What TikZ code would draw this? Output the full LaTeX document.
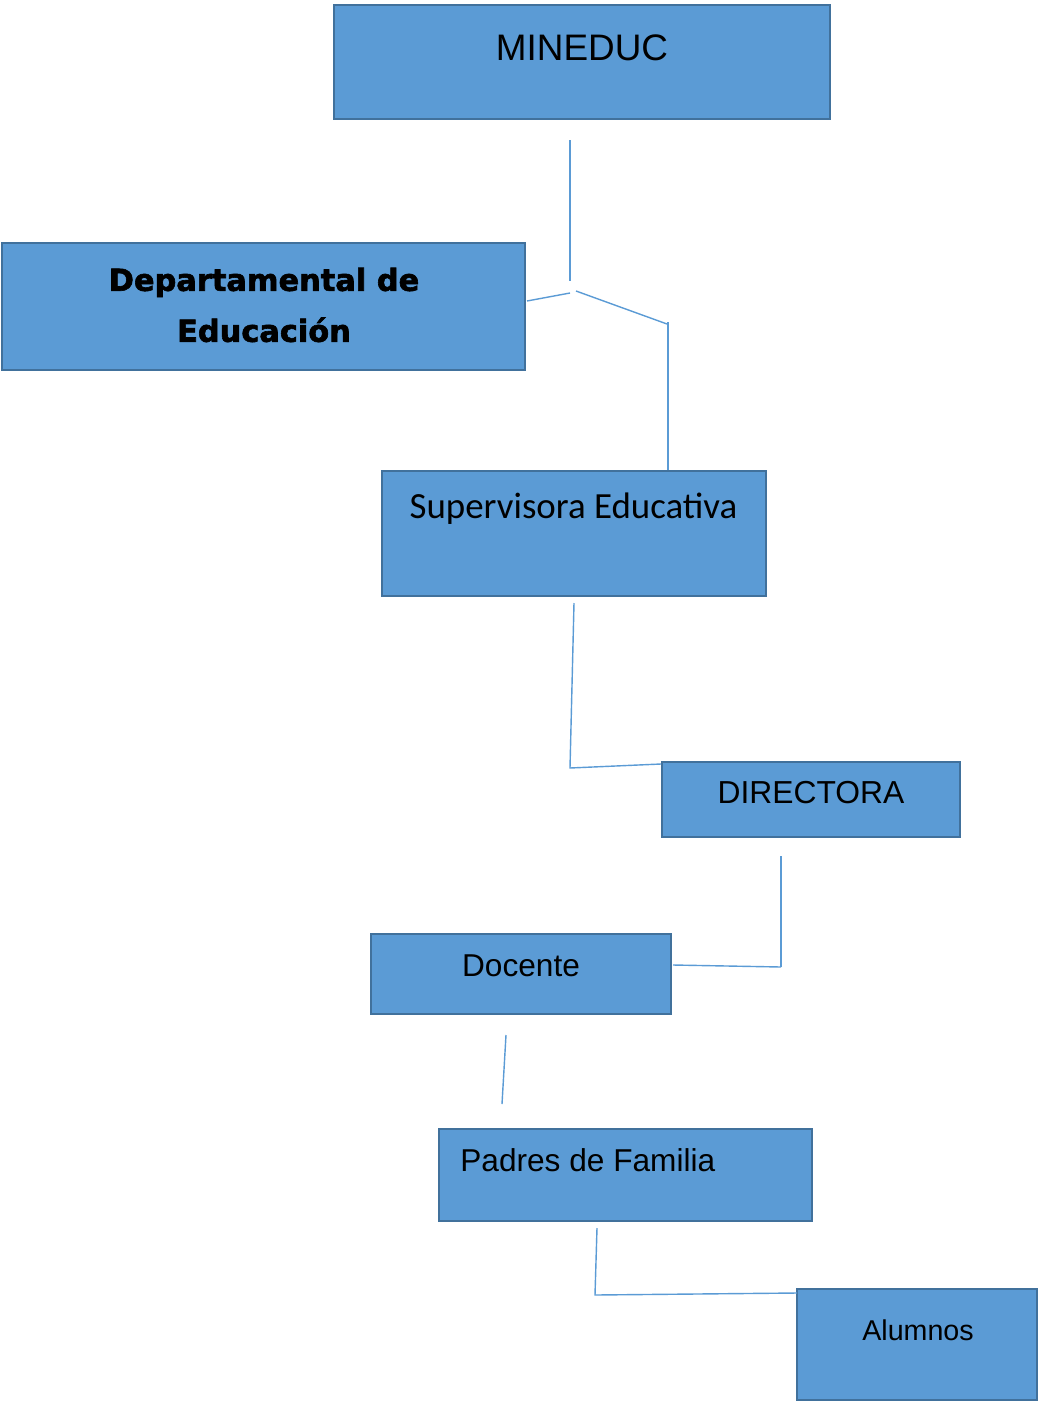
\documentclass[tikz,border=0pt]{standalone}
\usepackage{fontspec}
\setmainfont{Liberation Sans}
\newfontfamily\calibrifont{Carlito}
\newfontfamily\negrafont[FakeBold=2]{DejaVu Sans}
\usetikzlibrary{positioning}
\definecolor{azul}{HTML}{5B9BD5}
\definecolor{bordeazul}{HTML}{41719C}
\begin{document}
\begin{tikzpicture}[x=0.02cm,y=-0.02cm,
	caja/.style={draw=bordeazul,fill=azul,line width=1.5pt,inner sep=0pt},
	linea/.style={draw=azul,line width=0.8pt},
	texto/.style={anchor=base,inner sep=0pt,text=black}]
	\useasboundingbox (0,0) rectangle (1039,1403);
	% cajas
	\node [caja,minimum width=9.92cm,minimum height=2.28cm] (mineduc) at (582,62) {};
	\node [caja,minimum width=10.46cm,minimum height=2.54cm] (depto) at (263.5,306.5) {};
	\node [caja,minimum width=7.68cm,minimum height=2.5cm] (super) at (574,533.5) {};
	\node [caja,minimum width=5.96cm,minimum height=1.5cm] (directora) at (811,799.5) {};
	\node [caja,minimum width=6cm,minimum height=1.6cm] (docente) at (521,974) {};
	\node [caja,minimum width=7.46cm,minimum height=1.84cm] (padres) at (625.5,1175) {};
	\node [caja,minimum width=4.8cm,minimum height=2.22cm] (alumnos) at (917,1344.5) {};
	% textos
	\node [texto,font=\fontsize{21}{25}\selectfont] (tmineduc) at (582,60) {MINEDUC};
	\node [inner sep=0pt,align=center,font=\negrafont\bfseries\fontsize{17.3}{29}\selectfont] (tdepto) at (264,305) {Departamental de\\Educación};
	\node [texto,font=\calibrifont\fontsize{21}{25}\selectfont] (tsuper) at (573.5,518) {Supervisora Educativa};
	\node [texto,font=\fontsize{18.1}{22}\selectfont] (tdirectora) at (811,803) {DIRECTORA};
	\node [texto,font=\fontsize{18}{22}\selectfont] (tdocente) at (521,976) {Docente};
	\node [texto,anchor=base west,font=\fontsize{18}{22}\selectfont] (tpadres) at (460,1171) {Padres de Familia};
	\node [texto,font=\fontsize{16.3}{20}\selectfont] (talumnos) at (918,1340) {Alumnos};
	% lineas
	\coordinate (l1) at (570,140);
	\coordinate (l2) at (570,281);
	\coordinate (l3) at (527,301);
	\coordinate (l4) at (570,293);
	\coordinate (l5) at (576,291);
	\coordinate (l6) at (667,324);
	\coordinate (l7) at (668,322);
	\coordinate (l8) at (668,470);
	\coordinate (l9) at (574,603);
	\coordinate (l10) at (570,768);
	\coordinate (l11) at (661,764);
	\coordinate (l12) at (781,856);
	\coordinate (l13) at (781,967);
	\coordinate (l14) at (673,965);
	\coordinate (l15) at (506,1035);
	\coordinate (l16) at (502,1104);
	\coordinate (l17) at (597,1228);
	\coordinate (l18) at (595,1295);
	\coordinate (l19) at (797,1293);
	\draw [linea] (l1) -- (l2);
	\draw [linea] (l3) -- (l4);
	\draw [linea] (l5) -- (l6);
	\draw [linea] (l7) -- (l8);
	\draw [linea] (l9) -- (l10) -- (l11);
	\draw [linea] (l12) -- (l13);
	\draw [linea] (l14) -- (l13);
	\draw [linea] (l15) -- (l16);
	\draw [linea] (l17) -- (l18) -- (l19);
\end{tikzpicture}
\end{document}
